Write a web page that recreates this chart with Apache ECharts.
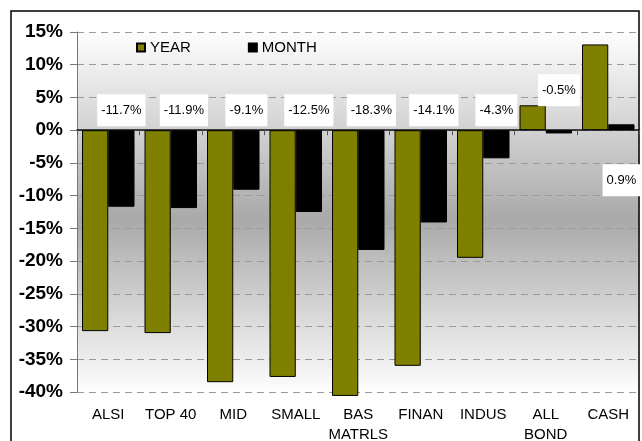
<!doctype html>
<html>
<head>
<meta charset="UTF-8">
<title>Returns</title>
<style type="text/css">
  html, body { margin: 0; padding: 0; background: #fff; }
  #chart { width: 642px; height: 441px; }
</style>
</head>
<body>
<div id="chart"></div>
<script src="https://cdn.jsdelivr.net/npm/echarts@6/dist/echarts.min.js"></script>
<script type="text/javascript">
// categories and returns (%)
var categories = ['ALSI', 'TOP 40', 'MID', 'SMALL', 'BAS\nMATRLS', 'FINAN', 'INDUS', 'ALL\nBOND', 'CASH'];
var yearValues = [-30.7, -31.0, -38.5, -37.7, -40.6, -36.0, -19.5, 3.8, 13.1];
var monthValues = [-11.7, -11.9, -9.1, -12.5, -18.3, -14.1, -4.3, -0.5, 0.9];
var seriesNames = ['YEAR', 'MONTH'];

var chart = echarts.init(document.getElementById('chart'));

// label placement tweaks for the two small bars (Excel labels were dragged by hand)
var labelTweaks = {
  7: { position: 'top', distance: 24 },
  8: { position: 'bottom', distance: 34 }
};

var monthData = monthValues.map(function (v, i) {
  var item = { value: v };
  if (labelTweaks[i]) item.label = labelTweaks[i];
  return item;
});

var font = 'Liberation Sans, Arial, sans-serif';

var option = {
  backgroundColor: '#fff',
  animation: false,
  legend: {
    left: 131,
    top: 35,
    itemWidth: 8,
    itemHeight: 8,
    itemGap: 57,
    icon: 'rect',
    data: seriesNames,
    textStyle: { fontFamily: font, fontSize: 15, color: '#000' }
  },
  grid: {
    left: 77,
    right: 2.5,
    top: 32,
    bottom: 49,
    outerBoundsMode: 'none',
    show: true,
    borderWidth: 0,
    backgroundColor: {
      type: 'linear', x: 0, y: 0, x2: 0, y2: 1,
      colorStops: [
        { offset: 0, color: '#fefefe' },
        { offset: 0.52, color: '#a9a9a9' },
        { offset: 1, color: '#fdfdfd' }
      ]
    }
  },
  xAxis: [{
    type: 'category',
    data: categories,
    position: 'bottom',
    axisLine: { show: false, onZero: false },
    axisTick: { show: false },
    axisLabel: {
      margin: 13,
      fontFamily: font,
      fontSize: 15,
      lineHeight: 20,
      color: '#000',
      interval: 0
    }
  }, {
    type: 'category',
    data: categories,
    position: 'bottom',
    axisLine: { show: true, onZero: true, lineStyle: { color: '#111', width: 1.5 } },
    axisTick: { show: true, length: 5, lineStyle: { color: '#555' } },
    axisLabel: { show: false }
  }],
  yAxis: {
    type: 'value',
    min: -40,
    max: 15,
    interval: 5,
    axisLine: { show: true, lineStyle: { color: '#777' } },
    axisTick: { show: true, length: 7, lineStyle: { color: '#777' } },
    axisLabel: {
      margin: 14,
      formatter: '{value}%',
      fontFamily: font,
      fontSize: 19,
      fontWeight: 'bold',
      color: '#000'
    },
    splitLine: { show: true, lineStyle: { color: '#9a9a9a', type: [7, 5], width: 1 } }
  },
  series: [{
    name: seriesNames[0],
    type: 'bar',
    xAxisIndex: 0,
    clip: false,
    barGap: '0%',
    barCategoryGap: '16%',
    data: yearValues,
    itemStyle: { color: '#808000', borderColor: '#000', borderWidth: 1 }
  }, {
    name: seriesNames[1],
    type: 'bar',
    xAxisIndex: 0,
    data: monthData,
    itemStyle: { color: '#000', borderColor: '#000', borderWidth: 1 },
    label: {
      show: true,
      position: 'top',
      distance: 4,
      formatter: function (p) { return p.value.toFixed(1) + '%'; },
      fontFamily: font,
      fontSize: 13,
      color: '#000',
      backgroundColor: '#fff',
      padding: [10, 4, 9, 4]
    }
  }],
  graphic: [{
    type: 'rect',
    shape: { x: 11, y: 11, width: 628, height: 440 },
    style: { fill: 'none', stroke: '#000', lineWidth: 1.5 },
    silent: true
  }]
};

chart.setOption(option);
</script>
</body>
</html>
